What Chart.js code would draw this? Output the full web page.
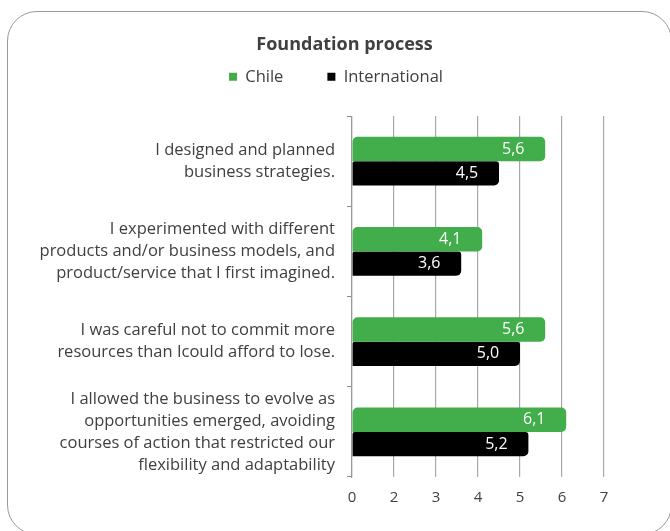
<!DOCTYPE html>
<html>
<head>
<meta charset="utf-8">
<title>Foundation process</title>
<script src="https://cdn.jsdelivr.net/npm/chart.js@4"></script>
<style>
    html, body { margin: 0; padding: 0; background: #fff; overflow: hidden; }
    #frame {
        position: absolute; left: 7px; top: 11px; width: 665px; height: 524px;
        border: 1.5px solid #9a9a9a; border-radius: 30px; box-sizing: border-box;
    }
    #wrap { position: absolute; left: 0; top: 0; width: 670px; height: 531px; }
</style>
</head>
<body>
<div id="frame"></div>
<div id="wrap"><canvas id="chart" width="670" height="531"></canvas></div>
<script>
// Data
const categories = [
    ["I designed and planned", "business strategies."],
    ["I experimented with different", "products and/or business models, and", "product/service that I first imagined."],
    ["I was careful not to commit more", "resources than Icould afford to lose."],
    ["I allowed the business to evolve as", "opportunities emerged, avoiding", "courses of action that restricted our", "flexibility and adaptability"]
];
const chileValues = [5.6, 4.1, 5.6, 6.1];
const internationalValues = [4.5, 3.6, 5.0, 5.2];
const tickLabels = ["0", "2", "3", "4", "5", "6", "7"];
const axisMin = 1;
const axisMax = 7;

const textColor = "#404040";
const fontFamily = "'Open Sans', 'Noto Sans', sans-serif";

// Value labels inside the bar ends, with decimal comma
const barLabels = {
    id: "barLabels",
    afterDatasetsDraw(chart) {
        const ctx = chart.ctx;
        ctx.save();
        ctx.fillStyle = "#fff";
        ctx.font = "16px " + fontFamily;
        ctx.textAlign = "center";
        ctx.textBaseline = "middle";
        chart.data.datasets.forEach((ds, i) => {
            chart.getDatasetMeta(i).data.forEach((bar, j) => {
                const txt = ds.data[j].toFixed(1).replace(".", ",");
                ctx.fillText(txt, bar.x - 32, bar.y);
            });
        });
        ctx.restore();
    }
};

// Room under the legend, and title/legend centred on the whole frame
const headerLayout = {
    id: "headerLayout",
    beforeInit(chart) {
        const fit = chart.legend.fit;
        chart.legend.fit = function () {
            fit.bind(chart.legend)();
            this.height += 21;
        };
    },
    afterLayout(chart) {
        chart.titleBlock.left = 20;
        chart.titleBlock.right = 669;
        chart.legend.left = 20;
        chart.legend.right = 652;
    }
};

new Chart(document.querySelector("#chart"), {
    type: "bar",
    data: {
        labels: categories,
        datasets: [{
            label: "Chile",
            data: chileValues,
            base: axisMin,
            backgroundColor: "#41ad4b",
            borderSkipped: false,
            borderRadius: { topLeft: 5, topRight: 5, bottomRight: 5, bottomLeft: 0 }
        }, {
            label: "International",
            data: internationalValues,
            base: axisMin,
            backgroundColor: "#000000",
            borderSkipped: false,
            borderRadius: { topLeft: 2, topRight: 3, bottomRight: 5, bottomLeft: 0 }
        }]
    },
    options: {
        indexAxis: "y",
        responsive: false,
        animation: false,
        layout: { padding: { left: 20, right: 66, top: 0, bottom: 24 } },
        datasets: { bar: { categoryPercentage: 0.54, barPercentage: 1 } },
        plugins: {
            title: {
                display: true,
                text: "Foundation process",
                color: textColor,
                font: { family: fontFamily, size: 18, weight: "bold" },
                padding: { top: 34, bottom: -31 }
            },
            legend: {
                display: true,
                position: "top",
                labels: {
                    color: textColor,
                    font: { family: fontFamily, size: 16.5 },
                    boxWidth: 8,
                    boxHeight: 8,
                    padding: 44
                }
            },
            tooltip: { enabled: false }
        },
        scales: {
            x: {
                min: axisMin,
                max: axisMax,
                ticks: {
                    stepSize: 1,
                    color: textColor,
                    padding: 12,
                    font: { family: fontFamily, size: 15 },
                    callback: (v, i) => tickLabels[i]
                },
                grid: { color: "#a8a8a8", lineWidth: 1.2, drawTicks: false },
                border: { display: false },
                afterFit: (scale) => { scale.height = 30; }
            },
            y: {
                ticks: {
                    autoSkip: false,
                    color: textColor,
                    padding: 12,
                    font: { family: fontFamily, size: 16.5, lineHeight: 1.33 }
                },
                grid: { drawOnChartArea: false, tickLength: 5, color: "#8c8c8c" },
                border: { color: "#9a9a9a", width: 1.2 },
                afterFit: (scale) => {
                    scale.width = 352 - 20;
                    scale.paddingTop = 0;
                    scale.paddingBottom = 0;
                }
            }
        }
    },
    plugins: [barLabels, headerLayout]
});
</script>
</body>
</html>
